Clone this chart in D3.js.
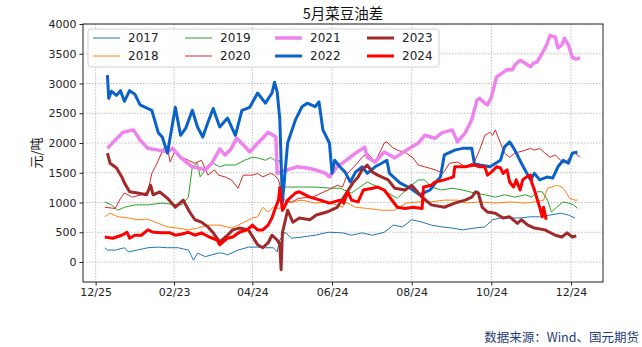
<!DOCTYPE html>
<html><head><meta charset="utf-8">
<script src="https://cdn.jsdelivr.net/npm/d3@7"></script>
<style>body{margin:0;background:#fff}svg{display:block}</style>
</head><body><svg id="c" width="642" height="347"></svg>
<script>
const title = "5月菜豆油差";
const yLabel = "元/吨";
const source = "数据来源：Wind、国元期货";
const xTickDays = [0, 60, 120, 181, 242, 303, 364];
const xTickLabels = ["12/25", "02/23", "04/24", "06/24", "08/24", "10/24", "12/24"];
const yTicks = [0, 500, 1000, 1500, 2000, 2500, 3000, 3500, 4000];
const years = ["2017", "2018", "2019", "2020", "2021", "2022", "2023", "2024"];

// [day offset from 12/25, value 元/吨]
const s2017 = [[7,240],[9,200],[15,200],[22,240],[25,170],[32,200],[40,240],[48,250],[55,240],[63,240],[71,200],[75,30],[78,150],[84,90],[89,120],[94,150],[97,150],[101,120],[109,200],[117,250],[124,250],[130,240],[136,240],[139,170],[141,370],[145,500],[150,400],[158,420],[168,450],[178,500],[189,490],[196,450],[204,490],[212,450],[221,500],[228,620],[235,590],[242,710],[250,670],[257,620],[265,590],[273,570],[281,540],[290,570],[298,590],[304,710],[310,740],[317,740],[325,740],[333,760],[340,760],[348,790],[356,820],[362,790],[367,740]];
const s2018 = [[7,760],[11,820],[17,760],[25,740],[32,710],[40,720],[48,650],[55,590],[63,570],[71,540],[78,570],[86,620],[95,620],[104,570],[112,650],[120,740],[124,760],[128,920],[132,840],[136,920],[141,900],[145,990],[150,1010],[158,1040],[168,990],[178,1010],[189,920],[191,1010],[199,920],[208,900],[219,870],[229,870],[238,990],[247,1010],[257,1010],[267,1040],[277,1040],[283,990],[294,1010],[306,990],[317,1010],[329,990],[336,1010],[343,1040],[346,1240],[349,1260],[353,1290],[357,1260],[359,1210],[363,1070],[367,1040],[369,1040]];
const s2019 = [[7,1010],[12,960],[17,870],[22,920],[30,960],[40,960],[51,990],[58,970],[66,960],[71,1090],[74,1600],[78,1660],[80,1430],[84,1550],[90,1660],[95,1600],[99,1630],[107,1630],[114,1710],[120,1760],[124,1750],[130,1710],[134,1760],[137,1710],[141,1700],[144,1260],[147,1260],[155,1260],[168,1260],[181,1240],[187,1240],[196,1160],[201,1240],[208,1345],[216,1260],[224,1160],[231,1070],[239,1240],[247,1380],[252,1380],[257,1260],[265,1210],[273,1240],[281,1210],[290,1160],[298,1130],[306,1090],[313,1130],[321,1090],[329,1130],[334,1090],[338,1180],[342,1180],[346,1040],[349,840],[353,920],[358,1010],[362,990],[366,960],[369,900]];
const s2020 = [[7,920],[15,900],[19,1070],[22,1160],[28,1090],[35,1130],[40,1180],[43,1490],[47,1660],[52,1910],[55,1930],[57,1680],[61,1880],[66,1760],[71,1710],[76,1660],[81,1710],[86,1460],[91,1550],[94,1460],[99,1430],[104,1380],[109,1240],[113,1460],[120,1460],[124,1490],[128,1430],[134,1490],[137,1460],[140,1380],[144,1050],[150,1000],[155,1070],[166,1090],[173,1160],[178,1210],[185,1290],[189,1260],[193,1490],[199,1630],[204,1760],[208,1830],[214,1680],[221,2000],[223,2020],[227,1930],[231,1880],[238,1830],[243,1750],[247,1630],[252,1600],[260,1550],[266,1490],[271,1660],[277,1680],[283,1600],[290,1680],[294,1880],[298,2130],[302,2180],[304,2130],[306,2220],[310,2000],[313,1830],[317,1760],[321,1830],[329,1880],[333,1910],[336,1880],[340,1910],[344,1830],[348,1760],[352,1800],[356,1710],[359,1660],[363,1750],[367,1830],[371,1760]];
const s2021 = [[9,1910],[15,2050],[21,2180],[29,2220],[34,2050],[40,1910],[48,1880],[55,1850],[59,1910],[65,1760],[74,1600],[84,1550],[89,1660],[95,1900],[99,1800],[103,1880],[108,2080],[113,1970],[118,1850],[123,1970],[130,2130],[132,2180],[136,2130],[138,2100],[139,1490],[147,1550],[154,1600],[162,1580],[168,1550],[176,1490],[179,1430],[186,1630],[189,1660],[199,1830],[206,1930],[208,1760],[214,1680],[221,1850],[229,1750],[238,1880],[247,2000],[252,2130],[260,2080],[265,2170],[273,2220],[277,2020],[283,2170],[288,2390],[292,2720],[294,2750],[298,2670],[300,2640],[303,2770],[307,3110],[311,3170],[315,3230],[319,3230],[321,3310],[325,3390],[329,3340],[333,3280],[335,3340],[338,3360],[342,3510],[346,3680],[348,3810],[352,3780],[354,3600],[357,3650],[359,3760],[362,3650],[365,3440],[368,3410],[371,3430]];
const s2022 = [[9,3140],[10,2750],[12,2870],[16,2800],[19,2880],[22,2700],[26,2880],[30,2820],[34,2640],[43,2550],[48,2170],[51,2100],[55,1830],[61,2600],[65,2130],[69,2250],[74,2550],[78,2270],[82,2100],[86,2350],[90,2580],[95,2270],[101,2420],[107,2130],[112,2550],[118,2600],[124,2840],[130,2670],[135,2840],[137,3020],[139,2860],[141,2400],[143,1000],[147,2000],[153,2390],[158,2610],[162,2670],[168,2610],[171,2690],[174,2220],[179,2000],[181,1490],[183,1710],[187,1600],[191,1510],[195,1345],[199,1510],[204,1600],[208,1490],[214,1600],[219,1660],[223,1710],[225,1490],[233,1330],[241,1240],[248,1130],[256,1210],[264,1430],[267,1800],[275,1880],[281,1910],[288,1910],[290,1660],[294,1630],[302,1600],[310,1710],[313,1930],[317,2020],[321,1880],[326,1660],[333,1380],[336,1490],[340,1380],[346,1430],[350,1410],[354,1600],[358,1710],[362,1660],[365,1830],[369,1850]];
const s2023 = [[9,1830],[11,1660],[16,1580],[20,1430],[22,1330],[26,1180],[32,1160],[39,1130],[42,1290],[44,1130],[49,1180],[55,1070],[61,920],[67,1040],[72,840],[76,710],[81,670],[86,590],[90,490],[95,340],[101,450],[105,540],[110,570],[117,540],[124,290],[128,240],[132,320],[135,450],[139,370],[141,300],[142,-130],[143,490],[147,870],[151,670],[156,740],[164,710],[169,790],[177,840],[185,920],[192,1160],[197,1330],[201,1430],[204,1550],[208,1630],[212,1510],[216,1460],[224,1380],[229,1240],[237,1210],[242,1290],[250,1090],[257,960],[267,920],[275,990],[283,1040],[288,1090],[291,1180],[293,1160],[296,920],[300,840],[306,820],[312,740],[317,760],[323,650],[326,710],[331,620],[336,570],[344,540],[352,450],[357,420],[361,490],[365,420],[368,440]];
const s2024 = [[7,420],[13,400],[20,450],[24,500],[26,400],[30,450],[35,450],[40,540],[44,500],[51,490],[57,490],[61,450],[66,470],[71,500],[76,450],[81,490],[87,420],[93,370],[95,290],[101,400],[105,420],[110,500],[116,540],[120,620],[124,540],[128,540],[132,620],[135,740],[137,870],[140,1040],[141,1250],[143,870],[144,900],[147,1040],[153,1160],[156,1180],[164,1090],[172,1040],[179,990],[187,1040],[190,990],[193,1180],[196,1040],[201,1010],[205,1210],[212,1240],[216,1260],[221,1210],[231,920],[237,900],[243,920],[250,900],[251,1260],[257,1290],[260,1345],[267,1380],[274,1430],[275,1600],[283,1600],[290,1630],[294,1600],[298,1600],[300,1460],[303,1510],[307,1600],[310,1580],[312,1490],[315,1550],[317,1345],[320,1260],[322,1380],[325,1210],[327,1380],[330,1430],[333,1460],[334,1330],[336,1210],[339,990],[340,920],[342,760],[343,920],[345,710]];

const seriesData = [s2017, s2018, s2019, s2020, s2021, s2022, s2023, s2024];
const colors = ["#1f77b4", "#ff7f0e", "#2ca02c", "#d62728", "#ee82ee", "#0a62c8", "#a02a2a", "#ff0000"];
const widths = [1, 1, 1, 1, 3.5, 3, 3, 3];

const svg = d3.select("#c");
const L = 83, R = 603, T = 24, B = 282;
const x = d3.scaleLinear().domain([-9.7, 388.5]).range([L, R]);
const y = d3.scaleLinear().domain([-336, 4000]).range([B, T]);

// grid
const grid = svg.append("g");
grid.selectAll(".gx").data(xTickDays).join("line")
  .attr("x1", d => x(d)).attr("x2", d => x(d)).attr("y1", T).attr("y2", B)
  .attr("stroke", "#b0b0b0").attr("stroke-width", 0.8).attr("stroke-dasharray", "1.5,1.5");
grid.selectAll(".gy").data(yTicks).join("line")
  .attr("x1", L).attr("x2", R).attr("y1", d => y(d)).attr("y2", d => y(d))
  .attr("stroke", "#b0b0b0").attr("stroke-width", 0.8).attr("stroke-dasharray", "1.5,1.5");

// lines
const line = d3.line().x(d => x(d[0])).y(d => y(d[1]));
const plot = svg.append("g");
seriesData.forEach((s, i) => {
  plot.append("path").datum(s).attr("d", line).attr("fill", "none")
    .attr("stroke", colors[i]).attr("stroke-width", widths[i]).attr("stroke-linejoin", "round");
});

// frame
svg.append("rect").attr("x", L).attr("y", T).attr("width", R - L).attr("height", B - T)
  .attr("fill", "none").attr("stroke", "#222").attr("stroke-width", 1);

// axes
const xAxis = d3.axisBottom(x).tickValues(xTickDays).tickFormat((d, i) => xTickLabels[i]).tickSize(3.5).tickPadding(3);
const gx = svg.append("g").attr("transform", `translate(0,${B})`).call(xAxis);
const yAxis = d3.axisLeft(y).tickValues(yTicks).tickFormat(d3.format("d")).tickSize(3.5).tickPadding(3);
const gy = svg.append("g").attr("transform", `translate(${L},0)`).call(yAxis);
[gx, gy].forEach(g => {
  g.select(".domain").remove();
  g.selectAll("text").attr("font-family", "DejaVu Sans").attr("font-size", 11).attr("fill", "#222");
  g.selectAll("line").attr("stroke", "#222");
});

// title
svg.append("text").attr("x", 343).attr("y", 19).attr("text-anchor", "middle")
  .attr("font-family", "Noto Sans CJK SC").attr("font-size", 14.5).attr("fill", "#111").text(title);
// y label
svg.append("text").attr("transform", "translate(41,153) rotate(-90)").attr("text-anchor", "middle")
  .attr("font-family", "Noto Sans CJK SC").attr("font-size", 13).attr("fill", "#111").text(yLabel);
// source
svg.append("text").attr("x", 639).attr("y", 342).attr("text-anchor", "end")
  .attr("font-family", "Noto Sans CJK SC").attr("font-size", 12.5).attr("fill", "#1f3c78").text(source);

// legend
const lg = svg.append("g");
lg.append("rect").attr("x", 88).attr("y", 29).attr("width", 351).attr("height", 38).attr("rx", 2.5)
  .attr("fill", "#fff").attr("fill-opacity", 0.85).attr("stroke", "#d0d0d0");
const colX = [93, 185, 275, 367];
years.forEach((yr, i) => {
  const c = Math.floor(i / 2), r = i % 2;
  const lx = colX[c], ly = r === 0 ? 38 : 56;
  lg.append("line").attr("x1", lx).attr("x2", lx + 27).attr("y1", ly).attr("y2", ly)
    .attr("stroke", colors[i]).attr("stroke-width", widths[i]);
  lg.append("text").attr("x", lx + 35).attr("y", ly + 4.3).attr("font-family", "DejaVu Sans")
    .attr("font-size", 12).attr("fill", "#222").text(yr);
});
</script></body></html>
